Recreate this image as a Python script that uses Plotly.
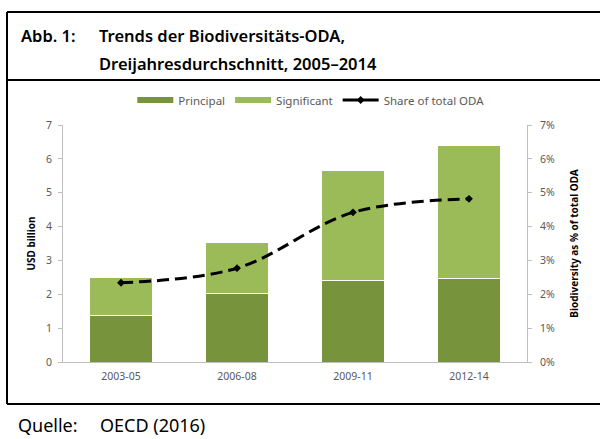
import plotly.graph_objects as go

categories = ["2003-05", "2006-08", "2009-11", "2012-14"]
principal = [1.38, 2.03, 2.42, 2.48]
significant = [1.11, 1.49, 3.23, 3.90]
share_pct = [2.34, 2.77, 4.42, 4.82]

W, H = 600, 439
def px(x): return x / W
def py(y): return 1 - y / H

dark = "#77933C"
light = "#9BBB59"
grey = "#595959"
axis_col = "#BFBFBF"

fig = go.Figure()
fig.add_trace(go.Bar(x=categories, y=principal, name="Principal", showlegend=False,
                     marker=dict(color=dark, line=dict(color="white", width=1))))
fig.add_trace(go.Bar(x=categories, y=significant, name="Significant", showlegend=False,
                     marker=dict(color=light, line=dict(color="white", width=1))))
fig.add_trace(go.Scatter(x=categories, y=share_pct, name="Share of total ODA", yaxis="y2", showlegend=False,
                         mode="lines+markers", line=dict(color="black", width=3, dash="12px,6px", shape="spline"),
                         marker=dict(symbol="diamond", size=6, color="black")))
# legend entries (wide swatches like the original)
fig.add_trace(go.Scatter(x=[None], y=[None], mode="lines", name="Principal",
                         line=dict(color=dark, width=6)))
fig.add_trace(go.Scatter(x=[None], y=[None], mode="lines", name="Significant",
                         line=dict(color=light, width=6)))
fig.add_trace(go.Scatter(x=[None], y=[None], mode="lines+markers", name="Share of total ODA",
                         line=dict(color="black", width=3), marker=dict(symbol="diamond", size=6, color="black")))

font_main = "Noto Sans"
fig.update_layout(
    width=W, height=H, barmode="stack", bargap=0.45,
    margin=dict(l=0, r=0, t=0, b=0),
    paper_bgcolor="white", plot_bgcolor="white",
    font=dict(family=font_main, size=10, color=grey),
    xaxis=dict(type="category", domain=[px(63), px(527)], showline=True, linecolor=axis_col, ticks="", showgrid=False,
               tickfont=dict(size=10.5, color=grey), automargin=False, ticklabelstandoff=4),
    yaxis=dict(domain=[py(362), py(125)], range=[0, 7], dtick=1, showline=True, linecolor=axis_col,
               ticks="outside", ticklen=4, tickcolor=axis_col, showgrid=False, zeroline=False,
               title=dict(text="<b>USD billion</b>", font=dict(size=10, color="black"), standoff=8),
               tickfont=dict(size=10.5, color=grey), automargin=False, ticklabelstandoff=4),
    yaxis2=dict(overlaying="y", side="right", range=[0, 7], dtick=1, ticksuffix="%", showline=True,
                linecolor=axis_col, ticks="outside", ticklen=4, tickcolor=axis_col, showgrid=False, zeroline=False,
                title=dict(text="<b>Biodiversity as % of total ODA</b>", font=dict(size=10, color="black"), standoff=16),
                tickfont=dict(size=10.5, color=grey), automargin=False, ticklabelstandoff=6),
    legend=dict(orientation="h", x=0.518, xanchor="center", y=py(100), yanchor="middle",
                font=dict(size=11.5, color=grey), traceorder="normal", bgcolor="rgba(0,0,0,0)",
                itemwidth=36),
    showlegend=True,
)

# borders
line = dict(color="black", width=2)
fig.add_shape(type="line", xref="paper", yref="paper", x0=px(7), x1=1.01, y0=py(12), y1=py(12), line=line)
fig.add_shape(type="line", xref="paper", yref="paper", x0=px(7), x1=1.01, y0=py(80), y1=py(80), line=line)
fig.add_shape(type="line", xref="paper", yref="paper", x0=px(7), x1=1.01, y0=py(404), y1=py(404), line=line)
fig.add_shape(type="line", xref="paper", yref="paper", x0=px(7), x1=px(7), y0=py(12), y1=py(404), line=line)

title_font = dict(family=font_main, size=16.5, color="black", weight=600)
fig.add_annotation(text="Abb. 1:", xref="paper", yref="paper", x=px(19), y=py(35), xanchor="left", yanchor="middle",
                   showarrow=False, font=title_font)
fig.add_annotation(text="Trends der Biodiversitäts-ODA,", xref="paper", yref="paper", x=px(97), y=py(35),
                   xanchor="left", yanchor="middle", showarrow=False, font=title_font)
fig.add_annotation(text="Dreijahresdurchschnitt, 2005–2014", xref="paper", yref="paper", x=px(97), y=py(64),
                   xanchor="left", yanchor="middle", showarrow=False, font=title_font)
src_font = dict(family=font_main, size=18, color="black")
fig.add_annotation(text="Quelle:", xref="paper", yref="paper", x=px(16), y=py(425),
                   xanchor="left", yanchor="middle", showarrow=False, font=src_font)
fig.add_annotation(text="OECD (2016)", xref="paper", yref="paper", x=px(98), y=py(425),
                   xanchor="left", yanchor="middle", showarrow=False, font=src_font)

fig.write_html("out.html", config={"displayModeBar": False},
               post_script="document.body.style.margin='0';document.body.style.overflow='hidden';")
